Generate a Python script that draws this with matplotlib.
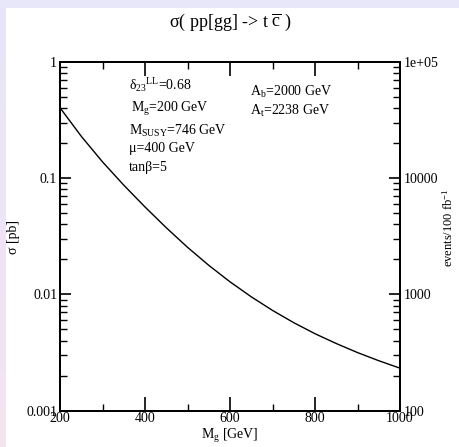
import numpy as np
import matplotlib
matplotlib.use("Agg")
import matplotlib.pyplot as plt
from matplotlib.patches import Rectangle
from matplotlib.colors import LinearSegmentedColormap
from matplotlib.ticker import FixedLocator, FixedFormatter, NullFormatter, LogLocator

# ---- data ----
mg = [200, 250, 300, 350, 400, 450, 500, 550, 600, 650, 700, 750, 800, 850, 900, 950, 1000]
sigma_pb = [0.402, 0.2286, 0.1377, 0.0869, 0.0564, 0.0374, 0.0254, 0.01778, 0.01282, 0.00953,
            0.00728, 0.00571, 0.00459, 0.00378, 0.00316, 0.00269, 0.00232]
x_ticks = [200, 400, 600, 800, 1000]
x_ticklabels = ["200", "400", "600", "800", "1000"]
y_ticks = [1, 0.1, 0.01, 0.001]
y_ticklabels = ["1", "0.1", "0.01", "0.001"]
y2_ticks = [1e5, 1e4, 1e3, 1e2]
y2_ticklabels = ["1e+05", "10000", "1000", "100"]

plt.rcParams['font.family'] = ['Liberation Serif', 'DejaVu Serif']
plt.rcParams['mathtext.fontset'] = 'custom'
plt.rcParams['mathtext.rm'] = 'Liberation Serif'
plt.rcParams['mathtext.it'] = 'Liberation Serif:italic'
plt.rcParams['mathtext.sf'] = 'Liberation Serif'

W, H = 459, 447
fig = plt.figure(figsize=(W/100, H/100), dpi=100)
fig.patch.set_facecolor('white')

# lavender border (top band, left strip with gradient)
fig.patches.append(Rectangle((0, 1 - 8/H), 1, 8/H, transform=fig.transFigure,
                             facecolor='#e8e6f9', edgecolor='none', zorder=-10))
gax = fig.add_axes([0, 0, 6/W, 1 - 8/H], zorder=-10)
grad = np.linspace(0, 1, 256).reshape(-1, 1)
cm = LinearSegmentedColormap.from_list('g', ['#e8e6f9', '#f4e4f0'])
gax.imshow(grad, aspect='auto', cmap=cm, extent=[0, 1, 0, 1], origin='upper')
gax.axis('off')

left, right, top, bottom = 60, 400, 61.7, 410.7
ax = fig.add_axes([left/W, (H-bottom)/H, (right-left)/W, (bottom-top)/H])
ax.plot(mg, sigma_pb, color='black', lw=1.0)
ax.set_yscale('log')
ax.set_xlim(200, 1000)
ax.set_ylim(0.001, 1)

ax.xaxis.set_major_locator(FixedLocator(x_ticks))
ax.xaxis.set_major_formatter(FixedFormatter(x_ticklabels))
ax.xaxis.set_minor_locator(FixedLocator([300, 500, 700, 900]))
ax.yaxis.set_major_locator(FixedLocator(y_ticks))
ax.yaxis.set_major_formatter(FixedFormatter(y_ticklabels))
ax.yaxis.set_minor_locator(LogLocator(base=10, subs=np.arange(2, 10)))
ax.yaxis.set_minor_formatter(NullFormatter())

for s in ax.spines.values():
    s.set_linewidth(1.4)
ax.tick_params(axis='both', which='major', direction='in', length=9, width=1.2,
               labelsize=10, top=True, right=False, pad=2)
ax.tick_params(axis='both', which='minor', direction='in', length=5, width=1.0,
               top=True, right=False)
ax.tick_params(axis='x', which='major', length=10, pad=1)
ax.tick_params(axis='y', which='major', length=8)

ax2 = ax.twinx()
ax2.set_yscale('log')
ax2.set_ylim(100, 1e5)
ax2.yaxis.set_major_locator(FixedLocator(y2_ticks))
ax2.yaxis.set_major_formatter(FixedFormatter(y2_ticklabels))
ax2.yaxis.set_minor_locator(LogLocator(base=10, subs=np.arange(2, 10)))
ax2.yaxis.set_minor_formatter(NullFormatter())
ax2.tick_params(axis='y', which='major', direction='in', length=8, width=1.2,
                labelsize=10, pad=3)
ax2.tick_params(axis='y', which='minor', direction='in', length=5, width=1.0)
for s in ax2.spines.values():
    s.set_linewidth(1.4)

# labels
fig.text(230/W, 1 - 22/H, r'σ( pp[gg] -> t $\overline{\mathrm{c}}$ )', ha='center', va='center', fontsize=13)
fig.text(230/W, 1 - 436/H, r'M$_{\mathrm{g}}$ [GeV]', ha='center', va='center', fontsize=10)
fig.text(13/W, 1 - 237/H, 'σ [pb]', ha='center', va='center', rotation=90, fontsize=10)
fig.text(448/W, 1 - 228/H, r'events/100 fb$^{-1}$', ha='center', va='center', rotation=90, fontsize=9)

fs = 10
def ftxt(x, y, s):
    fig.text(x/W, 1 - y/H, s, ha='left', va='center', fontsize=fs)

ftxt(129, 85, r'δ$_{23}$$^{\mathrm{LL}}$=0.68')
ftxt(131, 109, r'M$_{\mathrm{g}}$=200 GeV')
ftxt(129, 131, r'M$_{\mathrm{SUSY}}$=746 GeV')
ftxt(129, 149, 'μ=400 GeV')
ftxt(129, 167, 'tanβ=5')
ftxt(250, 92, r'A$_{\mathrm{b}}$=2000 GeV')
ftxt(250, 111, r'A$_{\mathrm{t}}$=2238 GeV')

fig.savefig('out.png', dpi=100)
